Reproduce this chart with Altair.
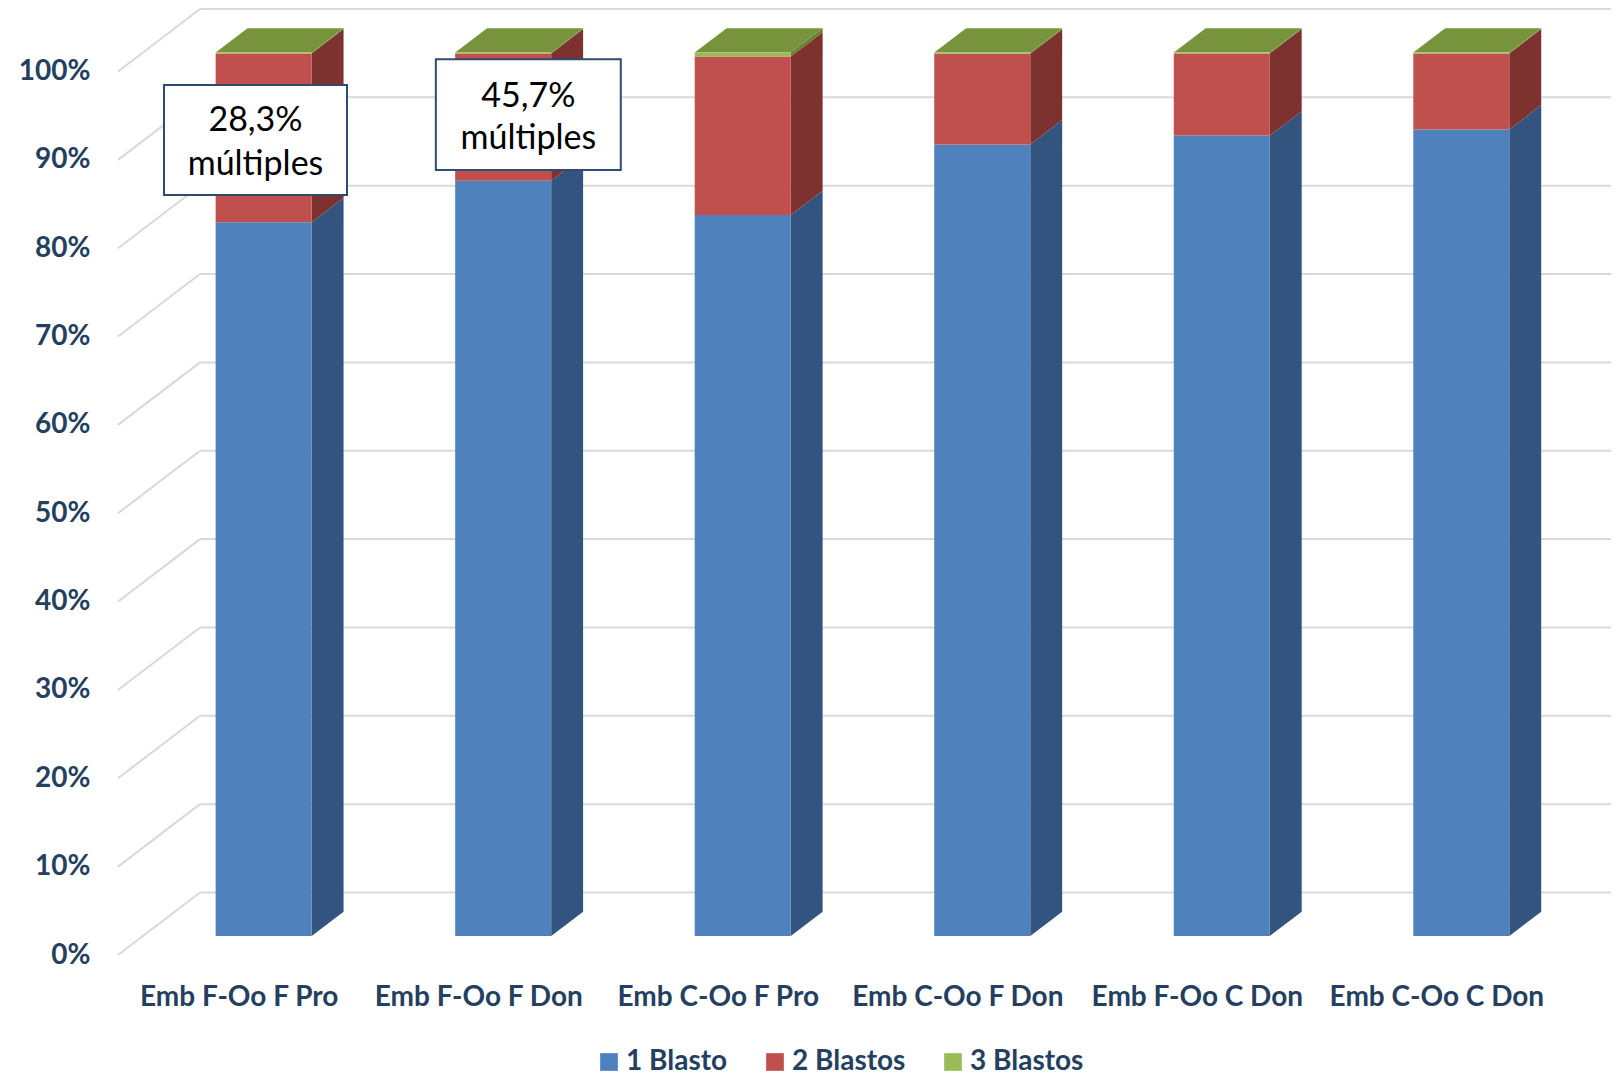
import altair as alt
import pandas as pd

# ---------------- data ----------------
categories = ["Emb F-Oo F Pro", "Emb F-Oo F Don", "Emb C-Oo F Pro",
              "Emb C-Oo F Don", "Emb F-Oo C Don", "Emb C-Oo C Don"]
series = ["1 Blasto", "2 Blastos", "3 Blastos"]
blasto1 = [80.8, 85.5, 81.6, 89.6, 90.6, 91.3]
blasto2 = [19.1, 14.4, 17.95, 10.25, 9.3, 8.6]
blasto3 = [0.1, 0.1, 0.45, 0.15, 0.1, 0.1]
tick_values = [0, 10, 20, 30, 40, 50, 60, 70, 80, 90, 100]
annot_lines = [["28,3%", "múltiples"], ["45,7%", "múltiples"]]

# ---------------- style ----------------
front_colors = ["#4F81BD", "#C0504D", "#9BBB59"]
side_colors = ["#32547E", "#7E322F", "#66822F"]
top_color = "#77933C"
label_color = "#243F60"
grid_color = "#D9D9D9"
FONT = "Lato"

# geometry (pseudo 3D)
PX_PER_CAT = 239.5
PX_PER_PCT = 8.835
WALL_DX_PX, WALL_DY_PX = 82.0, 62.5
BAR_W_PX = 96.0
F_FRONT, F_BACK = 0.304, 0.693
X_DOMAIN = [-0.504, 5.729]
Y_DOMAIN = [0, 107.19]
PLOT_W, PLOT_H = 1493, 947

wall_dx = WALL_DX_PX / PX_PER_CAT
wall_dy = WALL_DY_PX / PX_PER_PCT
fdx, fdy = F_FRONT * wall_dx, F_FRONT * wall_dy
bdx, bdy = F_BACK * wall_dx, F_BACK * wall_dy
hw = BAR_W_PX / 2 / PX_PER_CAT

front_rows, side_rows, top_rows = [], [], []
for i, cat in enumerate(categories):
    vals = [blasto1[i], blasto2[i], blasto3[i]]
    cum = 0.0
    fx0, fx1 = i + fdx - hw, i + fdx + hw
    bx0, bx1 = i + bdx - hw, i + bdx + hw
    for s, v, sc in zip(series, vals, side_colors):
        y0, y1 = cum, cum + v
        cum = y1
        front_rows.append(dict(x=fx0, x2=fx1, y=y0 + fdy, y2=y1 + fdy, serie=s))
        face = f"{i}-{s}"
        side_rows.append(dict(face=face, x=fx1, y=y0 + fdy, y2=y1 + fdy, c=sc))
        side_rows.append(dict(face=face, x=bx1, y=y0 + bdy, y2=y1 + bdy, c=sc))
    top_rows.append(dict(face=str(i), y=cum + fdy, x=fx0, x2=fx1, c=top_color))
    top_rows.append(dict(face=str(i), y=cum + bdy, x=bx0, x2=bx1, c=top_color))

front_df = pd.DataFrame(front_rows)
side_df = pd.DataFrame(side_rows)
top_df = pd.DataFrame(top_rows)

grid_rows = []
for v in tick_values:
    grid_rows.append(dict(x=X_DOMAIN[0], x2=X_DOMAIN[0] + wall_dx, y=v, y2=v + wall_dy))
    grid_rows.append(dict(x=X_DOMAIN[0] + wall_dx, x2=X_DOMAIN[1], y=v + wall_dy, y2=v + wall_dy))
grid_df = pd.DataFrame(grid_rows)

# annotation boxes (data units: category index / percent)
box_df = pd.DataFrame([
    dict(x=-0.312, x2=0.452, y=98.47, y2=86.02),
    dict(x=0.823, x2=1.595, y=101.38, y2=88.85),
])
text_df = pd.DataFrame([
    dict(x=0.070, y=93.3, t=annot_lines[0][0]),
    dict(x=0.070, y=88.3, t=annot_lines[0][1]),
    dict(x=1.209, y=95.95, t=annot_lines[1][0]),
    dict(x=1.209, y=91.2, t=annot_lines[1][1]),
])

# ---------------- scales / axes ----------------
XS = alt.Scale(domain=X_DOMAIN, nice=False, zero=False)
YS = alt.Scale(domain=Y_DOMAIN, nice=False, zero=False)
label_expr = "[" + ",".join("'" + c + "'" for c in categories) + "][datum.value]"
X_AXIS = alt.Axis(values=list(range(len(categories))), labelExpr=label_expr, title=None,
                  domain=False, ticks=False, grid=False, labelFont=FONT, labelFontSize=28,
                  labelFontWeight="bold", labelColor=label_color, labelPadding=42,
                  labelBaseline="middle", labelOverlap=False, labelFlush=False,
                  labelLimit=0)
Y_AXIS = alt.Axis(values=tick_values, labelExpr="datum.value + '%'", title=None,
                  domain=False, ticks=False, grid=False, labelFont=FONT, labelFontSize=28,
                  labelFontWeight="bold", labelColor=label_color, labelPadding=28,
                  labelBaseline="middle", labelOverlap=False, labelFlush=False,
                  labelLimit=0)


def X(f):
    return alt.X(f, type="quantitative", scale=XS, axis=X_AXIS)


def Y(f):
    return alt.Y(f, type="quantitative", scale=YS, axis=Y_AXIS, stack=None)


grid = alt.Chart(grid_df).mark_rule(color=grid_color, strokeWidth=2).encode(
    x=X("x"), x2="x2", y=Y("y"), y2="y2")

sides = alt.Chart(side_df).mark_area(orient="vertical", strokeWidth=0).encode(
    x=X("x"), y=Y("y"), y2="y2", detail="face:N",
    color=alt.Color("c:N", scale=None))

tops = alt.Chart(top_df).mark_area(orient="horizontal", strokeWidth=0).encode(
    y=Y("y"), x=alt.X("x", type="quantitative", scale=XS, axis=X_AXIS, stack=None),
    x2="x2", detail="face:N", color=alt.Color("c:N", scale=None))

fronts = alt.Chart(front_df).mark_rect().encode(
    x=X("x"), x2="x2", y=Y("y"), y2="y2",
    color=alt.Color("serie:N", scale=alt.Scale(domain=series, range=front_colors),
                    legend=alt.Legend(orient="none", legendX=477, legendY=1040,
                                      direction="horizontal", title=None,
                                      symbolType="square", symbolSize=313,
                                      symbolStrokeWidth=0, symbolOpacity=1,
                                      labelFont=FONT, labelFontSize=28,
                                      labelFontWeight="bold", labelColor=label_color,
                                      labelOffset=3, columnPadding=33, padding=0,
                                      labelLimit=0)))

boxes = alt.Chart(box_df).mark_rect(fill="white", stroke="#2F4B72", strokeWidth=2).encode(
    x=X("x"), x2="x2", y=Y("y"), y2="y2")

texts = alt.Chart(text_df).mark_text(font=FONT, fontSize=34, color="black",
                                     align="center", baseline="alphabetic").encode(
    x=X("x"), y=Y("y"), text="t:N")

chart = alt.layer(grid, sides, tops, fronts, boxes, texts).resolve_scale(
    color="independent"
).properties(
    width=PLOT_W, height=PLOT_H,
    padding={"left": 110, "top": 0, "right": 0, "bottom": 121},
    autosize=alt.AutoSizeParams(type="none"),
    background="white",
).configure_view(stroke=None)

chart.save("out.html", embed_options={"renderer": "svg", "actions": False})
